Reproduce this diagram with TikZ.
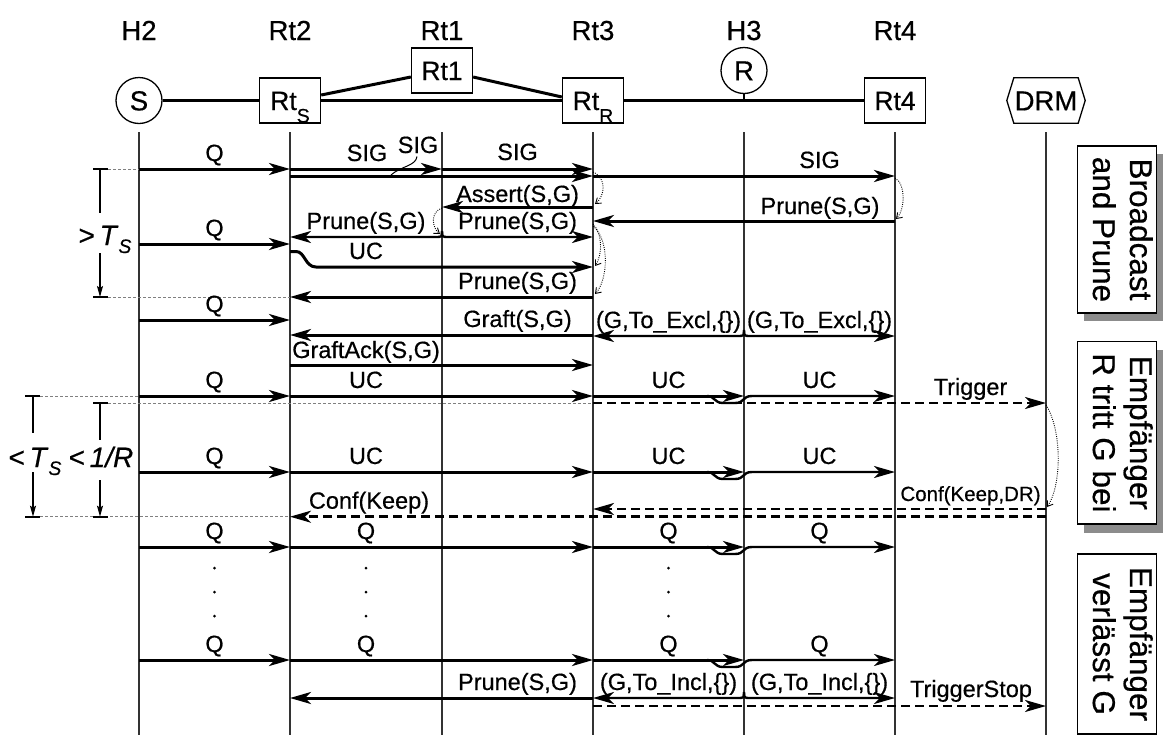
\documentclass[tikz,border=0pt]{standalone}
\usepackage{fontspec}
\setmainfont{Liberation Sans}[FakeBold=0.5]
\usetikzlibrary{arrows.meta,calc}
\tikzset{
  life/.style={line width=1.2pt, black!80},
  mtip/.style={-{Stealth[length=21pt,width=12pt,inset=6pt]}},
  msg/.style={line width=3pt, mtip},
  msgb/.style={line width=2.4pt, mtip},
  msgd/.style={line width=2.5pt, dash pattern=on 9pt off 5pt, mtip},
  topo/.style={line width=3pt},
  ext/.style={line width=0.8pt, dash pattern=on 3pt off 2pt, black!50},
  meas/.style={line width=1.2pt},
  measarr/.style={line width=1.2pt, -{Stealth[length=11pt,width=6pt,inset=2pt]}},
  tickbar/.style={line width=2.4pt},
  dotarc/.style={line width=0.9pt, dash pattern=on 0.9pt off 1.3pt, -{Straight Barb[length=5pt,width=7pt]}},
  lbl/.style={font=\fontsize{23.5}{27}\selectfont, inner sep=0pt, anchor=base},
  slbl/.style={font=\fontsize{20.5}{24}\selectfont, inner sep=0pt, anchor=base},
  hdr/.style={font=\fontsize{27.5}{30}\selectfont, inner sep=0pt, anchor=base},
  mlbl/.style={font=\fontsize{28}{30}\selectfont, inner sep=0pt, anchor=base},
  hostc/.style={circle, draw, line width=1.3pt, minimum size=46pt, inner sep=0pt, font=\fontsize{27.5}{30}\selectfont, text height=19.7pt, text depth=0pt},
  rbox/.style={rectangle, draw, line width=1.3pt, minimum width=61pt, minimum height=45pt, inner sep=0pt, font=\fontsize{26.5}{30}\selectfont, text height=19pt, text depth=0pt},
  sbox/.style={rectangle, draw, fill=white, line width=1.3pt, inner sep=0pt},
  stxt/.style={font=\fontsize{31.5}{36}\selectfont, inner sep=0pt, anchor=base, rotate=-90},
  shade/.style={fill=black!45},
}
\begin{document}
\begin{tikzpicture}[x=1pt,y=-1pt]
\useasboundingbox (0,0) rectangle (1163,737);

% header labels
\node[hdr] (hH2) at (139,40) {H2};
\node[hdr] (hRt2) at (290,40) {Rt2};
\node[hdr] (hRt1) at (442,40) {Rt1};
\node[hdr] (hRt3) at (593,40) {Rt3};
\node[hdr] (hH3) at (744,40) {H3};
\node[hdr] (hRt4) at (895,40) {Rt4};

% topology
\node[hostc] (S) at (139,100.5) {S};
\node[rbox] (RtS) at (290,100.5) {Rt\raisebox{-12.5pt}{\fontsize{19.5}{20}\selectfont S}};
\node[rbox] (RtOne) at (442,70.5) {Rt1};
\node[rbox] (RtR) at (593,100.5) {Rt\raisebox{-12.5pt}{\fontsize{19.5}{20}\selectfont R}};
\node[hostc] (R) at (744,70.5) {R};
\node[rbox] (RtFour) at (895,100.5) {Rt4};
\node[font=\fontsize{27.5}{30}\selectfont, inner sep=0pt, minimum width=64pt, minimum height=45pt, text height=19.7pt, text depth=0pt] (DRMbox) at (1046,100.5) {DRM};
\draw[line width=1.3pt] (DRMbox.north west) -- (DRMbox.north east) -- ($(DRMbox.east)+(7,0)$) -- (DRMbox.south east) -- (DRMbox.south west) -- ($(DRMbox.west)+(-7,0)$) -- cycle;
\draw[topo] (S) -- (RtS);
\draw[topo] (RtS) -- (RtR);
\draw[topo] (RtR) -- (RtFour);
\draw[topo] ($(RtS.east)+(0,-5.5)$) -- ($(RtOne.west)+(0,6.5)$);
\draw[topo] ($(RtOne.east)+(0,6.5)$) -- ($(RtR.west)+(0,-3.5)$);
\draw[line width=1.3pt] (R.south) -- (R |- RtR);

% lifelines
\coordinate (LH2) at (139,132);
\coordinate (LRt2) at (290,132);
\coordinate (LRt1) at (442,132);
\coordinate (LRt3) at (593,132);
\coordinate (LH3) at (744,132);
\coordinate (LRt4) at (895,132);
\coordinate (LDRM) at (1046,132);
\foreach \n in {LH2,LRt2,LRt1,LRt3,LH3,LRt4,LDRM} { \draw[life] (\n) -- (\n |- 0,735); }

% ---- Broadcast and Prune
\draw[msg] (LH2|-0,169) -- (LRt2|-0,169);
\node[lbl] (q1) at (214.5,161) {Q};
\draw[msg] (LRt2|-0,169) -- (LRt1|-0,169);
\node[lbl] (sig1) at (367,161) {SIG};
\draw[msg] (LRt1|-0,169) -- (LRt3|-0,169);
\node[lbl] (sig2) at (517.5,160) {SIG};
\draw[msg] (LRt2|-0,176) -- (LRt3|-0,176);
\draw[msg] (LRt3|-0,176) -- (LRt4|-0,176);
\node[lbl] (sig3) at (819.5,168) {SIG};
\node[lbl] (sig4) at (418,153) {SIG};
\draw[line width=1pt] ($(sig4.south)+(-1,3)$) .. controls (416,166) and (401,166) .. (391,175);
\draw[dotarc] (LRt3|-0,172) .. controls (607,178) and (605,196) .. (595,204);
\draw[msg] (LRt3|-0,207) -- (LRt1|-0,207);
\node[lbl] (as1) at (517.5,202) {Assert(S,G)};
\draw[dotarc] (LRt4|-0,178) .. controls (906,184) and (905,210) .. (896,219);
\draw[msg] (LRt4|-0,221) -- (LRt3|-0,221);
\node[lbl] (pr1) at (820,214) {Prune(S,G)};
\draw[dotarc] (LRt1|-0,208) .. controls (430,212) and (432,228) .. (440,234);
\draw[msgb] (LRt1|-0,231) .. controls (LRt1|-0,237) .. (435,237) -- (LRt2|-0,237);
\draw[msgb] (LRt1|-0,231) .. controls (LRt1|-0,237) .. (449,237) -- (LRt3|-0,237);
\node[lbl] (pr2) at (366,229) {Prune(S,G)};
\node[lbl] (pr3) at (517.5,229) {Prune(S,G)};
\draw[msg] (LH2|-0,244) -- (LRt2|-0,244);
\node[lbl] (q2) at (214.5,236) {Q};
\draw[msg] (LRt2|-0,251.5) -- (296,251.5) .. controls (305,251.5) and (305,267) .. (316,267) -- (LRt3|-0,267);
\node[lbl] (uc1) at (366,259) {UC};
\draw[dotarc] (LRt3|-0,224) .. controls (603,234) and (602,256) .. (595,266);
\draw[dotarc] (LRt3|-0,226) .. controls (610,240) and (608,280) .. (595,294);
\draw[msg] (LRt3|-0,297) -- (LRt2|-0,297);
\node[lbl] (pr4) at (517.5,289) {Prune(S,G)};

% > T_S
\draw[ext] (108,169) -- (LH2|-0,169);
\draw[ext] (108,297) -- (LRt2|-0,297);
\draw[tickbar] (93,169) -- (108,169);
\draw[tickbar] (93,297) -- (108,297);
\draw[meas] (100,169) -- (100,213);
\draw[measarr] (100,253) -- (100,297);
\node[mlbl] (gts) at (105,245) {>\,\textit{T}\raisebox{-8pt}{\fontsize{19.5}{20}\selectfont\textit{S}}};

% graft
\draw[msg] (LH2|-0,320) -- (LRt2|-0,320);
\node[lbl] (q3) at (214.5,312) {Q};
\draw[msg] (LRt3|-0,335) -- (LRt2|-0,335);
\node[lbl] (gr1) at (517.5,327) {Graft(S,G)};
\draw[msgb] (LH3|-0,330) .. controls (LH3|-0,336) .. (737,336) -- (LRt3|-0,336);
\draw[msgb] (LH3|-0,330) .. controls (LH3|-0,336) .. (751,336) -- (LRt4|-0,336);
\node[lbl] (ex1) at (668.5,328) {(G,To\_Excl,\{\})};
\node[lbl] (ex2) at (819.5,328) {(G,To\_Excl,\{\})};
\draw[msg] (LRt2|-0,365) -- (LRt3|-0,365);
\node[lbl] (ga) at (366,358) {GraftAck(S,G)};

% ---- receiver joins
\foreach \y in {396,472,547,660} {
  \draw[msg] (LH2|-0,\y) -- (LRt2|-0,\y);
  \draw[msg] (LRt2|-0,\y) -- (LRt3|-0,\y);
  \draw[msg] (LRt3|-0,\y) -- (LH3|-0,\y);
  \draw[msgb] (707,\y) .. controls (715,\y) and (714,\y+7) .. (723,\y+7) -- (735,\y+7) .. controls (745,\y+7) and (742,\y) .. (752,\y) -- (LRt4|-0,\y);
}
\node[lbl] (q4) at (214.5,388) {Q};
\node[lbl] (uc2) at (366,388) {UC};
\node[lbl] (uc3) at (668.5,388) {UC};
\node[lbl] (uc4) at (819.5,388) {UC};
\node[lbl] (q5) at (214.5,464) {Q};
\node[lbl] (uc5) at (366,464) {UC};
\node[lbl] (uc6) at (668.5,464) {UC};
\node[lbl] (uc7) at (819.5,464) {UC};

\draw[ext] (108,403) -- (LRt3|-0,403);
\draw[ext] (40,396) -- (LH2|-0,396);
\draw[ext] (40,516.7) -- (LRt2|-0,516.7);
\draw[msgd] (LRt3|-0,403) -- (LDRM|-0,403);
\node[lbl] (trg) at (970.5,395) {Trigger};

\draw[tickbar] (25,396) -- (40,396);
\draw[tickbar] (25,516.7) -- (40,516.7);
\draw[meas] (33,396) -- (33,433);
\draw[measarr] (33,472) -- (33,516.7);
\node[mlbl] (lts) at (35,467) {<\,\textit{T}\raisebox{-8pt}{\fontsize{19.5}{20}\selectfont\textit{S}}};
\draw[tickbar] (93,403) -- (108,403);
\draw[tickbar] (93,516.7) -- (108,516.7);
\draw[meas] (100,403) -- (100,440);
\draw[measarr] (100,480) -- (100,516.7);
\node[mlbl] (lr) at (101,467) {<\,\textit{1/R}};

\draw[dotarc] (LDRM|-0,405) .. controls (1062,430) and (1062,485) .. (1047,507);
\draw[msgd] (LDRM|-0,509) -- (LRt3|-0,509);
\node[slbl] (cf1) at (970.5,501) {Conf(Keep,DR)};
\draw[msgd] (LDRM|-0,516.7) -- (LRt2|-0,516.7);
\node[lbl] (cf2) at (369,508.7) {Conf(Keep)};

% ---- Q rows
\node[lbl] (q6) at (214.5,539) {Q};
\node[lbl] (q7) at (366,539) {Q};
\node[lbl] (q8) at (668.5,539) {Q};
\node[lbl] (q9) at (819.5,539) {Q};
\foreach \x in {214.5,366,668.5} { \foreach \y in {568,592,616} { \fill (\x,\y) circle (1.5pt); } }
\node[lbl] (q10) at (214.5,652) {Q};
\node[lbl] (q11) at (366,652) {Q};
\node[lbl] (q12) at (668.5,652) {Q};
\node[lbl] (q13) at (819.5,652) {Q};

% ---- leave
\draw[msg] (LRt3|-0,698) -- (LRt2|-0,698);
\node[lbl] (pr5) at (517.5,690) {Prune(S,G)};
\draw[msgb] (LH3|-0,692) .. controls (LH3|-0,698) .. (737,698) -- (LRt3|-0,698);
\draw[msgb] (LH3|-0,692) .. controls (LH3|-0,698) .. (751,698) -- (LRt4|-0,698);
\node[lbl] (in1) at (668.5,690) {(G,To\_Incl,\{\})};
\node[lbl] (in2) at (819.5,690) {(G,To\_Incl,\{\})};
\draw[msgd] (LRt3|-0,706) -- (LDRM|-0,706);
\node[lbl] (tst) at (971,697) {TriggerStop};

% ---- side boxes
\fill[shade] (1084,154) rectangle (1163,321);
\node[sbox, minimum width=79pt, minimum height=167pt] (bx1) at (1117,229.5) {};
\node[stxt] (bx1a) at (1130,229.5) {Broadcast};
\node[stxt] (bx1b) at (1093,229.5) {and Prune};
\fill[shade] (1084,350) rectangle (1163,533);
\node[sbox, minimum width=79pt, minimum height=182.3pt] (bx2) at (1117,432.9) {};
\node[stxt] (bx2a) at (1130,432.9) {Empfänger};
\node[stxt] (bx2b) at (1093,432.9) {R tritt G bei};
\node[sbox, minimum width=79pt, minimum height=180pt] (bx3) at (1117,644) {};
\node[stxt] (bx3a) at (1130,644) {Empfänger};
\node[stxt] (bx3b) at (1093,644) {verlässt G};
\end{tikzpicture}
\end{document}
